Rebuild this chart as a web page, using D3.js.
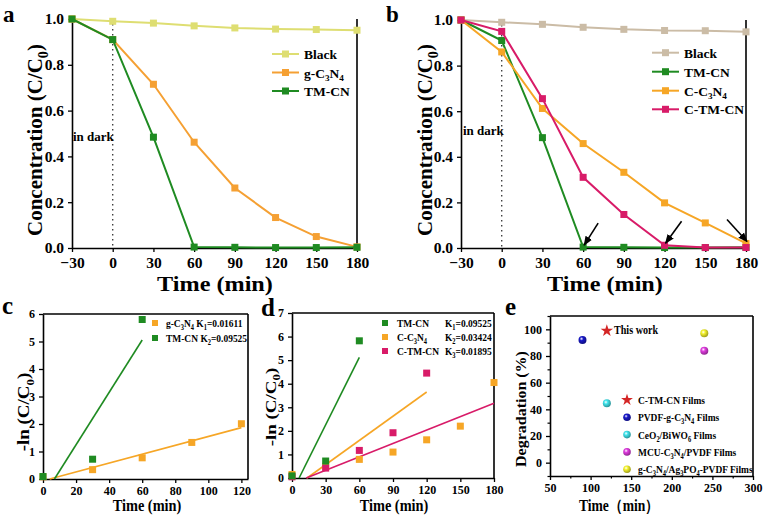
<!DOCTYPE html>
<html>
<head>
<meta charset="utf-8">
<script src="https://cdn.jsdelivr.net/npm/d3@7"></script>
<style>
body { margin: 0; background: #fff; }
svg { display: block; }
</style>
</head>
<body>
<script>
var SERIF = "'Liberation Serif','Times New Roman',serif";

// a, b : C/C0 against time
var timeAB = [-30, 0, 30, 60, 90, 120, 150, 180];
var aBlack = [1.0, 0.99, 0.982, 0.97, 0.961, 0.956, 0.954, 0.951];
var aGCN   = [1.0, 0.91, 0.715, 0.462, 0.262, 0.133, 0.05, 0.005];
var aTMCN  = [1.0, 0.91, 0.484, 0.004, 0.003, 0.002, 0.002, 0.003];
var bBlack = [1.0, 0.99, 0.981, 0.968, 0.959, 0.954, 0.953, 0.948];
var bTMCN  = [1.0, 0.91, 0.484, 0.004, 0.003, 0.002, 0.002, 0.003];
var bCCN   = [1.0, 0.86, 0.612, 0.458, 0.332, 0.198, 0.11, 0.02];
var bCTMCN = [1.0, 0.95, 0.655, 0.31, 0.147, 0.012, 0.002, 0.002];
var arrowAt = [[60, 0.004], [120, 0.012], [180, 0.02]];
var ticksAB = [-30, 0, 30, 60, 90, 120, 150, 180];
var ticksC0 = [0, 0.2, 0.4, 0.6, 0.8, 1.0];

// c : -ln(C/C0)
var cTimeG = [0, 30, 60, 90, 120];
var cGCN   = [0.08, 0.34, 0.77, 1.33, 2.01];
var cTimeT = [0, 30, 60];
var cTMCN  = [0.09, 0.72, 5.8];
var cFitG  = [0.01611, -0.065, 120];   // k, intercept, end time
var cFitT  = [0.09525, -0.66, 60];

// d
var dTimeT = [0, 30, 60];
var dTMCN  = [0.09, 0.72, 5.82];
var dTimeC = [0, 30, 60, 90, 120, 150, 180];
var dCCN   = [0.15, 0.5, 0.79, 1.1, 1.62, 2.2, 4.05];
var dTimeP = [0, 30, 60, 90, 120];
var dCTMCN = [0.05, 0.42, 1.17, 1.92, 4.45];
var dFitT  = [0.09525, -0.6, 60];
var dFitC  = [0.03424, -0.46, 120];
var dFitP  = [0.01895, -0.24, 180];

// e : comparison
var eNames = ["C-TM-CN Films", "PVDF-g-C_3N_4 Films", "CeO_2/BiWO_6 Films",
              "MCU-C_3N_4/PVDF Films", "g-C_3N_4/Ag_3PO_4-PVDF Films"];
var eTime  = [120, 90, 120, 240, 240];
var eDeg   = [99, 92, 44.5, 84, 97];

var col = {
    blackA: "#dede72", blackB: "#cbbca6", orange: "#f5a033", orangeB: "#f6a626",
    green: "#1f8b22", pink: "#d81b68"
};
var eColors = ["#d42626", "#1818c8", "#40e4ec", "#e03ce0", "#f4f22c"];

var svg = d3.select("body").append("svg").attr("width", 763).attr("height", 520);
var defs = svg.append("defs");
defs.append("marker").attr("id", "arr").attr("viewBox", "0 0 10 10")
    .attr("refX", 9).attr("refY", 5).attr("markerWidth", 6).attr("markerHeight", 6)
    .attr("orient", "auto")
    .append("path").attr("d", "M0,1 L10,5 L0,9 Z").attr("fill", "#000");
eColors.slice(1).forEach(function(c, i) {
    var gr = defs.append("radialGradient").attr("id", "sph" + (i + 1))
        .attr("cx", "38%").attr("cy", "35%").attr("r", "65%");
    gr.append("stop").attr("offset", "0%").attr("stop-color", "#fff");
    gr.append("stop").attr("offset", "35%").attr("stop-color", c);
    gr.append("stop").attr("offset", "100%").attr("stop-color", d3.color(c).darker(1.2));
});

// text with _x subscripts
function txt(x, y, str, o) {
    o = o || {};
    var fs = o.fs || 12;
    var t = svg.append("text")
        .attr("transform", "translate(" + x + "," + y + ")" + (o.rot ? " rotate(" + o.rot + ")" : "") +
              " scale(" + (o.sx || 1) + "," + (o.sy || 1) + ")")
        .attr("font-family", SERIF).attr("font-weight", "bold").attr("font-size", fs)
        .attr("text-anchor", o.anchor || "start").attr("fill", o.fill || "#000");
    var down = false;
    str.split(/(_.)/).filter(function(s) { return s; }).forEach(function(p) {
        if (p[0] === "_" && p.length === 2) {
            t.append("tspan").attr("font-size", fs * 0.68).attr("dy", down ? 0 : fs * 0.28).text(p[1]);
            down = true;
        } else {
            t.append("tspan").attr("dy", down ? -fs * 0.28 : 0).text(p);
            down = false;
        }
    });
    return t;
}

function styleAxis(a, fs) {
    a.select(".domain").attr("stroke", "#000").attr("stroke-width", 1.6);
    a.selectAll(".tick line").attr("stroke", "#000").attr("stroke-width", 1.3);
    a.selectAll("text").attr("font-family", SERIF).attr("font-weight", "bold")
        .attr("font-size", fs).attr("fill", "#000");
}

function axes(x, y, xt, yt, xf, yf, fs, box, pad) {
    var r = x.range(), h = y.range();
    var ax = svg.append("g").attr("transform", "translate(0," + h[0] + ")")
        .call(d3.axisBottom(x).tickValues(xt).tickFormat(xf).tickSize(4).tickSizeOuter(0).tickPadding(pad));
    styleAxis(ax, fs);
    var ay = svg.append("g").attr("transform", "translate(" + r[0] + ",0)")
        .call(d3.axisLeft(y).tickValues(yt).tickFormat(yf).tickSize(4).tickSizeOuter(0).tickPadding(4));
    styleAxis(ay, fs);
    svg.append("line").attr("x1", r[1]).attr("x2", r[1]).attr("y1", h[0]).attr("y2", h[1])
        .attr("stroke", "#000").attr("stroke-width", 1.6);
    if (box) {
        svg.append("line").attr("x1", r[0]).attr("x2", r[1]).attr("y1", h[1]).attr("y2", h[1])
            .attr("stroke", "#000").attr("stroke-width", 1.6);
    }
}

function squares(x, y, xs, vs, color, s) {
    svg.append("g").selectAll("rect").data(d3.zip(xs, vs)).join("rect")
        .attr("x", function(d) { return x(d[0]) - s / 2; })
        .attr("y", function(d) { return y(d[1]) - s / 2; })
        .attr("width", s).attr("height", s).attr("fill", color);
}

function series(x, y, xs, vs, color) {
    var line = d3.line().x(function(d) { return x(d[0]); }).y(function(d) { return y(d[1]); });
    svg.append("path").datum(d3.zip(xs, vs)).attr("d", line)
        .attr("fill", "none").attr("stroke", color).attr("stroke-width", 2);
    squares(x, y, xs, vs, color, 7);
}

function fit(x, y, f, color) {
    var t0 = -f[1] / f[0];
    svg.append("line")
        .attr("x1", x(t0)).attr("y1", y(0))
        .attr("x2", x(f[2])).attr("y2", y(f[0] * f[2] + f[1]))
        .attr("stroke", color).attr("stroke-width", 1.6);
}

function legendLine(x0, yy, label, color) {
    svg.append("line").attr("x1", x0).attr("x2", x0 + 27).attr("y1", yy).attr("y2", yy)
        .attr("stroke", color).attr("stroke-width", 2);
    svg.append("rect").attr("x", x0 + 10).attr("y", yy - 3.5).attr("width", 7).attr("height", 7).attr("fill", color);
    txt(x0 + 32, yy + 5, label, {fs: 13.5});
}

function darkLine(x, y) {
    svg.append("line").attr("x1", x(0)).attr("x2", x(0)).attr("y1", y(1)).attr("y2", y(0))
        .attr("stroke", "#333").attr("stroke-width", 1.3).attr("stroke-dasharray", "1.5,3.5");
}

var f1 = d3.format(".1f");

// ---- a ----
var xa = d3.scaleLinear().domain([-30, 180]).range([72, 357]);
var ya = d3.scaleLinear().domain([0, 1]).range([248, 19]);
darkLine(xa, ya);
axes(xa, ya, ticksAB, ticksC0, d3.format("d"), f1, 15.5, false, 5);
series(xa, ya, timeAB, aBlack, col.blackA);
series(xa, ya, timeAB, aGCN, col.orange);
series(xa, ya, timeAB, aTMCN, col.green);
legendLine(272, 54, "Black", col.blackA);
legendLine(272, 72.5, "g-C_3N_4", col.orange);
legendLine(272, 91, "TM-CN", col.green);
txt(73, 141, "in dark", {fs: 13});
txt(3, 22, "a", {fs: 23});
txt(215, 291, "Time (min)", {fs: 22, anchor: "middle", sx: 1.1});
txt(42, 140, "Concentration (C/C_0)", {fs: 21, anchor: "middle", rot: -90});

// ---- b ----
var xb = d3.scaleLinear().domain([-30, 180]).range([461, 746]);
var yb = d3.scaleLinear().domain([0, 1]).range([248, 20]);
darkLine(xb, yb);
axes(xb, yb, ticksAB, ticksC0, d3.format("d"), f1, 15.5, false, 5);
series(xb, yb, timeAB, bBlack, col.blackB);
series(xb, yb, timeAB, bTMCN, col.green);
series(xb, yb, timeAB, bCCN, col.orangeB);
series(xb, yb, timeAB, bCTMCN, col.pink);
legendLine(652, 52.7, "Black", col.blackB);
legendLine(652, 71.7, "TM-CN", col.green);
legendLine(652, 90.7, "C-C_3N_4", col.orangeB);
legendLine(652, 109.3, "C-TM-CN", col.pink);
txt(463, 135, "in dark", {fs: 13});
txt(386, 22, "b", {fs: 23});
txt(605, 291, "Time (min)", {fs: 22, anchor: "middle", sx: 1.1});
txt(432, 140, "Concentration (C/C_0)", {fs: 21, anchor: "middle", rot: -90});
var tails = [[14, -22], [16, -22], [-20, -22]];
arrowAt.forEach(function(d, i) {
    var tx = xb(d[0]) + 1, ty = yb(d[1]) - 2;
    svg.append("line").attr("x1", tx + tails[i][0]).attr("y1", ty + tails[i][1])
        .attr("x2", tx).attr("y2", ty).attr("stroke", "#000").attr("stroke-width", 1.6)
        .attr("marker-end", "url(#arr)");
});

// ---- c ----
var xc = d3.scaleLinear().domain([0, 124]).range([43, 248]);
var yc = d3.scaleLinear().domain([0, 6]).range([479, 314]);
axes(xc, yc, [0, 20, 40, 60, 80, 100, 120], [0, 1, 2, 3, 4, 5, 6], d3.format("d"), d3.format("d"), 12, true, 3);
fit(xc, yc, cFitG, col.orangeB);
fit(xc, yc, cFitT, col.green);
squares(xc, yc, cTimeG, cGCN, col.orangeB, 7);
squares(xc, yc, cTimeT, cTMCN, col.green, 7);
svg.append("rect").attr("x", 152).attr("y", 320).attr("width", 6).attr("height", 6).attr("fill", col.orangeB);
svg.append("rect").attr("x", 152).attr("y", 335).attr("width", 6).attr("height", 6).attr("fill", col.green);
txt(166, 327, "g-C_3N_4  K_1=0.01611", {fs: 11, sx: 0.86});
txt(166, 342, "TM-CN K_2=0.09525", {fs: 11, sx: 0.86});
txt(2, 314, "c", {fs: 25});
txt(147, 511, "Time (min)", {fs: 16.5, anchor: "middle", sx: 0.87});
txt(29, 412, "-ln (C/C_0)", {fs: 19, anchor: "middle", rot: -90, sy: 0.85});

// ---- d ----
var xd = d3.scaleLinear().domain([0, 180]).range([292, 494]);
var yd = d3.scaleLinear().domain([0, 7]).range([478, 313]);
axes(xd, yd, [0, 30, 60, 90, 120, 150, 180], [0, 1, 2, 3, 4, 5, 6, 7], d3.format("d"), d3.format("d"), 12, true, 3);
fit(xd, yd, dFitT, col.green);
fit(xd, yd, dFitC, col.orangeB);
fit(xd, yd, dFitP, col.pink);
squares(xd, yd, dTimeC, dCCN, col.orangeB, 7);
squares(xd, yd, dTimeP, dCTMCN, col.pink, 7);
squares(xd, yd, dTimeT, dTMCN, col.green, 7);
[["TM-CN", "K_1=0.09525", col.green], ["C-C_3N_4", "K_2=0.03424", col.orangeB],
 ["C-TM-CN", "K_3=0.01895", col.pink]].forEach(function(r, i) {
    var yy = 323 + i * 14;
    svg.append("rect").attr("x", 382).attr("y", yy - 3).attr("width", 6).attr("height", 6).attr("fill", r[2]);
    txt(397, yy + 4, r[0], {fs: 11, sx: 0.86});
    txt(445, yy + 4, r[1], {fs: 11, sx: 0.86});
});
txt(261, 316, "d", {fs: 25});
txt(394, 511, "Time (min)", {fs: 16.5, anchor: "middle", sx: 0.87});
txt(276, 407, "-ln (C/C_0)", {fs: 19, anchor: "middle", rot: -90, sy: 0.8});

// ---- e ----
var xe = d3.scaleLinear().domain([50, 300]).range([550, 753]);
var ye = d3.scaleLinear().domain([-10, 110]).range([476, 316]);
axes(xe, ye, [50, 100, 150, 200, 250, 300], [0, 20, 40, 60, 80, 100], d3.format("d"), d3.format("d"), 12, true, 3);
var mx = svg.append("g").attr("transform", "translate(0,476)")
    .call(d3.axisBottom(xe).tickValues([75, 125, 175, 225, 275]).tickFormat("").tickSize(2.5).tickSizeOuter(0));
mx.select(".domain").remove();
mx.selectAll("line").attr("stroke-width", 1.2);
var my = svg.append("g").attr("transform", "translate(550,0)")
    .call(d3.axisLeft(ye).tickValues([-10, 10, 30, 50, 70, 90, 110]).tickFormat("").tickSize(2.5).tickSizeOuter(0));
my.select(".domain").remove();
my.selectAll("line").attr("stroke-width", 1.2);

var star = d3.symbol().type(d3.symbolStar);
function mark(i, px, py, r) {
    if (i === 0) {
        svg.append("path").attr("d", star.size(r * r * 3)()).attr("transform", "translate(" + px + "," + py + ")")
            .attr("fill", eColors[0]);
    } else {
        svg.append("circle").attr("cx", px).attr("cy", py).attr("r", r).attr("fill", "url(#sph" + i + ")");
    }
}
eTime.forEach(function(t, i) { mark(i, xe(t), ye(eDeg[i]), 4); });
txt(614, 334, "This work", {fs: 11.5, sx: 0.88});
eNames.forEach(function(n, i) {
    var yy = 400 + i * 17.3;
    mark(i, 627, yy, 3.8);
    txt(638, yy + 4, n, {fs: 11, sx: 0.86});
});
txt(505, 315, "e", {fs: 25});
txt(619, 511, "Time（min）", {fs: 16, anchor: "middle", sx: 0.85});
txt(526, 409, "Degradation (%)", {fs: 16, anchor: "middle", rot: -90, sy: 0.85});
</script>
</body>
</html>
